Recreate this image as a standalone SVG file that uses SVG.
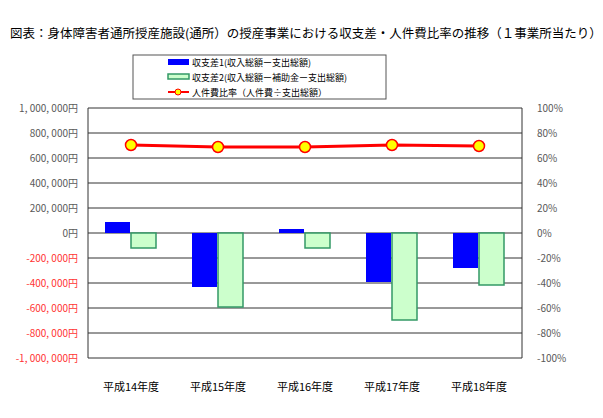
<svg xmlns="http://www.w3.org/2000/svg" width="603" height="418" viewBox="0 0 603 418">
<style>
text{font-family:"Noto Sans CJK JP","Liberation Sans",sans-serif}
.l{font-size:10px;fill:#595959;text-anchor:end}
.n{fill:#ff3333}
.r{font-size:10px;fill:#595959}
.g{stroke:#333;stroke-width:1}
.b1{fill:#0000ff}
.b2{fill:#ccffcc;stroke:#339966;stroke-width:1.5}
.x{font-size:11px;fill:#000;text-anchor:middle}
.lg{font-size:9px;fill:#000}
</style>
<rect width="603" height="418" fill="#fff"/>
<text x="10" y="38" font-size="12.5">図表：身体障害者通所授産施設(通所）の授産事業における収支差・人件費比率の推移（１事業所当たり）</text>
<g id="legend">
<rect x="133" y="55" width="253" height="44" fill="#fff" stroke="#555"/>
<rect x="168" y="59" width="21" height="6" fill="#0000ff"/>
<text class="lg" x="192" y="66">収支差1(収入総額ー支出総額)</text>
<rect x="168" y="74" width="21" height="5" fill="#ccffcc" stroke="#339966" stroke-width="1.5"/>
<text class="lg" x="192" y="81">収支差2(収入総額ー補助金ー支出総額)</text>
<line x1="168" y1="92" x2="189" y2="92" stroke="#ff0000" stroke-width="2"/>
<circle cx="178" cy="92" r="3" fill="#ffff00" stroke="#ff0000"/>
<text class="lg" x="192" y="96">人件費比率（人件費÷支出総額）</text>
</g>
<g id="grid">
<line class="g" x1="88" y1="108" x2="522" y2="108"/>
<line class="g" x1="88" y1="133" x2="522" y2="133"/>
<line class="g" x1="88" y1="158" x2="522" y2="158"/>
<line class="g" x1="88" y1="183" x2="522" y2="183"/>
<line class="g" x1="88" y1="208" x2="522" y2="208"/>
<line class="g" x1="88" y1="233" x2="522" y2="233"/>
<line class="g" x1="88" y1="258" x2="522" y2="258"/>
<line class="g" x1="88" y1="283" x2="522" y2="283"/>
<line class="g" x1="88" y1="308" x2="522" y2="308"/>
<line class="g" x1="88" y1="333" x2="522" y2="333"/>
<line class="g" x1="88" y1="358" x2="522" y2="358"/>
<line class="g" x1="88" y1="108" x2="88" y2="358"/>
<line class="g" x1="522" y1="108" x2="522" y2="358"/>
</g>
<g id="left-axis">
<text class="l" x="78" y="112">1, 000, 000円</text>
<text class="l" x="78" y="137">800, 000円</text>
<text class="l" x="78" y="162">600, 000円</text>
<text class="l" x="78" y="187">400, 000円</text>
<text class="l" x="78" y="212">200, 000円</text>
<text class="l" x="78" y="237">0円</text>
<text class="l n" x="78" y="262">-200, 000円</text>
<text class="l n" x="78" y="287">-400, 000円</text>
<text class="l n" x="78" y="312">-600, 000円</text>
<text class="l n" x="78" y="337">-800, 000円</text>
<text class="l n" x="78" y="362">-1, 000, 000円</text>
</g>
<g id="right-axis">
<text class="r" x="537" y="112">100%</text>
<text class="r" x="537" y="137">80%</text>
<text class="r" x="537" y="162">60%</text>
<text class="r" x="537" y="187">40%</text>
<text class="r" x="537" y="212">20%</text>
<text class="r" x="537" y="237">0%</text>
<text class="r" x="537" y="262">-20%</text>
<text class="r" x="537" y="287">-40%</text>
<text class="r" x="537" y="312">-60%</text>
<text class="r" x="537" y="337">-80%</text>
<text class="r" x="537" y="362">-100%</text>
</g>
<g id="bars">
<rect class="b1" x="105" y="222" width="25" height="11"/>
<rect class="b2" x="131" y="233" width="25" height="15"/>
<rect class="b1" x="192" y="233" width="25" height="54"/>
<rect class="b2" x="218" y="233" width="25" height="74"/>
<rect class="b1" x="279" y="229" width="25" height="4"/>
<rect class="b2" x="305" y="233" width="25" height="15"/>
<rect class="b1" x="366" y="233" width="25" height="49"/>
<rect class="b2" x="392" y="233" width="25" height="87"/>
<rect class="b1" x="453" y="233" width="25" height="35"/>
<rect class="b2" x="479" y="233" width="25" height="52"/>
</g>
<g id="connectors">
<polyline points="131,145 218,147 305,147 392,145 479,146" fill="none" stroke="#ff0000" stroke-width="3"/>
</g>
<g id="points" fill="#ffff00" stroke="#ff0000" stroke-width="1.5">
<circle cx="131" cy="145" r="5.5"/>
<circle cx="218" cy="147" r="5.5"/>
<circle cx="305" cy="147" r="5.5"/>
<circle cx="392" cy="145" r="5.5"/>
<circle cx="479" cy="146" r="5.5"/>
</g>
<g id="x-axis">
<text class="x" x="131" y="391">平成14年度</text>
<text class="x" x="218" y="391">平成15年度</text>
<text class="x" x="305" y="391">平成16年度</text>
<text class="x" x="392" y="391">平成17年度</text>
<text class="x" x="479" y="391">平成18年度</text>
</g>
</svg>
